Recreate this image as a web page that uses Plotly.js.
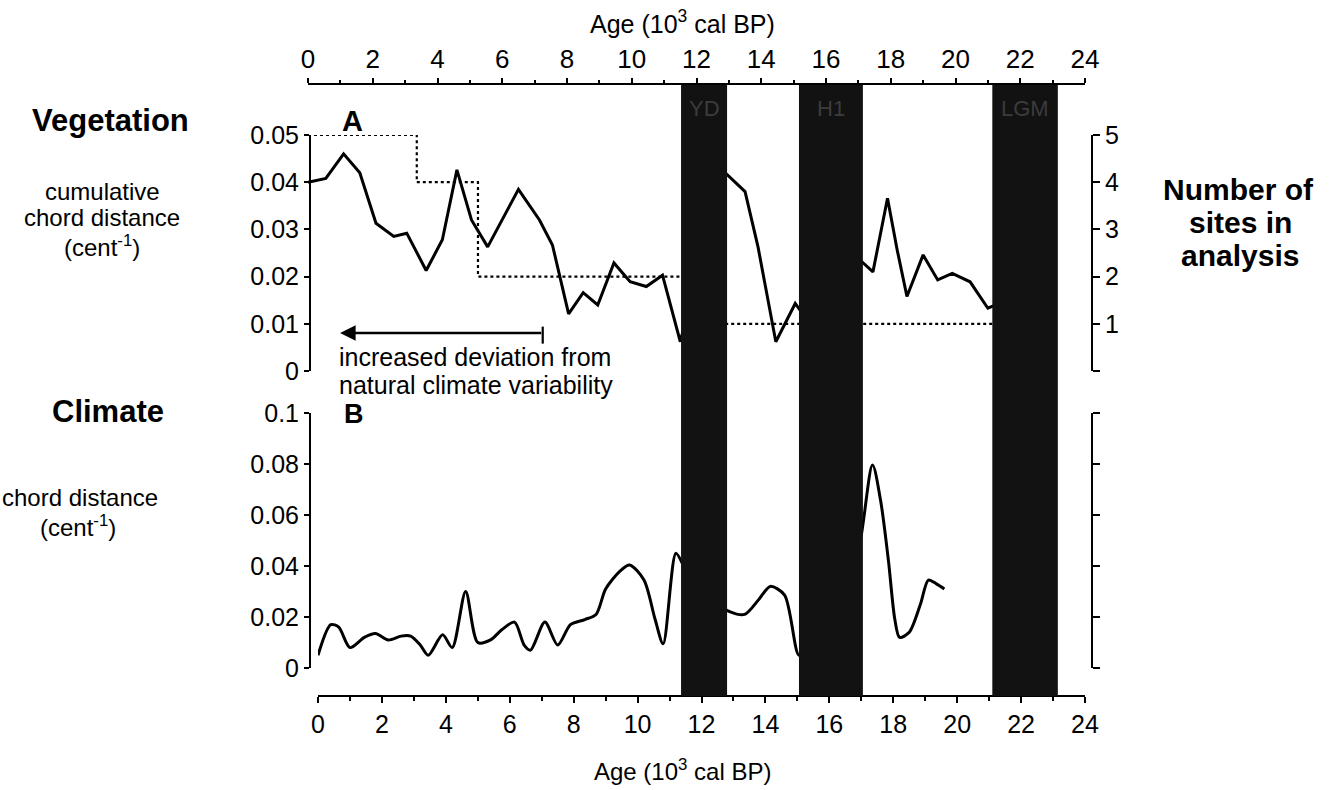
<!DOCTYPE html>
<html>
<head>
<meta charset="utf-8">
<script src="https://cdn.plot.ly/plotly-3.0.1.min.js"></script>
<style>
html,body{margin:0;padding:0;background:#fff;}
#chart{width:1335px;height:790px;}
</style>
</head>
<body>
<div id="chart"></div>
<script>
// ---------------- DATA ----------------
// Panel A: vegetation cumulative chord distance (top age axis)
var vegAge = [0, 0.55, 1.1, 1.6, 2.1, 2.65, 3.05, 3.65, 4.15, 4.6, 5.05, 5.55, 6.5, 7.15, 7.55, 8.05, 8.5, 8.95, 9.45, 9.95, 10.45, 10.95, 11.5, 12.2, 12.9, 13.5, 13.9, 14.45, 15.05, 15.6, 16.3, 17.1, 17.45, 17.9, 18.2, 18.5, 19.0, 19.45, 19.9, 20.45, 21.0, 21.6, 22.3, 23.0];
var vegVal = [0.040, 0.0408, 0.046, 0.042, 0.0313, 0.0285, 0.0292, 0.0213, 0.0278, 0.0426, 0.032, 0.0263, 0.0385, 0.032, 0.0267, 0.0121, 0.0166, 0.014, 0.0229, 0.0189, 0.0179, 0.0203, 0.0062, 0.025, 0.0419, 0.038, 0.0263, 0.0062, 0.0143, 0.009, 0.014, 0.0232, 0.021, 0.0366, 0.0256, 0.0158, 0.0246, 0.0193, 0.0207, 0.0189, 0.0133, 0.015, 0.012, 0.011];
// Number of sites in analysis (step, right axis)
var sitesAge = [0, 3.36, 5.25, 12.2, 22.5];
var sitesNum = [5, 4, 2, 1, 1];
// Panel B: climate chord distance (bottom age axis)
var climAge = [0, 0.4, 0.65, 1.0, 1.45, 1.8, 2.2, 2.6, 2.9, 3.2, 3.45, 3.9, 4.2, 4.62, 5.0, 5.4, 5.75, 6.15, 6.45, 6.65, 7.1, 7.5, 7.9, 8.35, 8.7, 9.0, 9.45, 9.75, 10.2, 10.55, 10.8, 11.2, 11.45, 11.8, 12.2, 12.55, 12.9, 13.35, 13.8, 14.15, 14.6, 15.05, 15.6, 16.2, 16.8, 17.35, 17.6, 17.85, 18.05, 18.2, 18.5, 18.85, 19.1, 19.35, 19.6];
var climVal = [0.005, 0.017, 0.016, 0.008, 0.012, 0.0135, 0.011, 0.0125, 0.0125, 0.009, 0.005, 0.013, 0.008, 0.030, 0.010, 0.011, 0.015, 0.018, 0.009, 0.007, 0.018, 0.009, 0.017, 0.019, 0.021, 0.031, 0.038, 0.0404, 0.0345, 0.019, 0.0095, 0.045, 0.0397, 0.03, 0.035, 0.025, 0.022, 0.021, 0.027, 0.032, 0.0286, 0.005, 0.025, 0.03, 0.04, 0.0796, 0.066, 0.042, 0.019, 0.012, 0.014, 0.025, 0.0345, 0.033, 0.031];
// Climate events (shaded bands)
var bandNames = ['YD', 'H1', 'LGM'];
var bandStart = [11.36, 15.05, 21.1];
var bandEnd = [12.8, 17.05, 23.15];
var ageTicks = [0, 2, 4, 6, 8, 10, 12, 14, 16, 18, 20, 22, 24];

// ---------------- LAYOUT HELPERS ----------------
var W = 1335, H = 790, L = 300, R = 235, T = 80, B = 90;
var PW = W - L - R, PH = H - T - B;
function px(x){ return (x - L) / PW; }
function py(y){ return (T + PH - y) / PH; }

var FONT = 'Liberation Sans, Arial, sans-serif';
var NARROW = 'Liberation Sans Narrow, Liberation Sans, Arial, sans-serif';

var traces = [
  {x: vegAge, y: vegVal, xaxis: 'x3', yaxis: 'y', type: 'scatter', mode: 'lines',
   line: {color: '#000', width: 3}, hoverinfo: 'skip'},
  {x: sitesAge, y: sitesNum, xaxis: 'x3', yaxis: 'y2', type: 'scatter', mode: 'lines',
   line: {color: '#000', width: 2.2, dash: 'dot', shape: 'hv'}, hoverinfo: 'skip'},
  {x: climAge, y: climVal, xaxis: 'x', yaxis: 'y3', type: 'scatter', mode: 'lines',
   line: {color: '#000', width: 3, shape: 'spline', smoothing: 0.8}, hoverinfo: 'skip'},
  {x: [0], y: [0], xaxis: 'x', yaxis: 'y4', type: 'scatter', mode: 'markers',
   marker: {opacity: 0}, hoverinfo: 'skip'}
];

var shapes = [];
for (var i = 0; i < bandNames.length; i++) {
  shapes.push({type: 'rect', xref: 'x', yref: 'paper', x0: bandStart[i], x1: bandEnd[i],
    y0: py(696), y1: py(85), fillcolor: '#121212', line: {width: 0}, layer: 'above'});
}
// end bar of the arrow
shapes.push({type: 'line', xref: 'x3', yref: 'y', x0: 7.25, x1: 7.25, y0: 0.0058, y1: 0.0094,
  line: {color: '#000', width: 2.2}});

var annotations = [];
function txt(t, x, y, size, bold, opts) {
  var a = {text: bold ? '<b>' + t + '</b>' : t, xref: 'paper', yref: 'paper', x: px(x), y: py(y),
    showarrow: false, font: {family: FONT, size: size, color: '#000'}, xanchor: 'center', yanchor: 'middle'};
  if (opts) for (var k in opts) a[k] = opts[k];
  annotations.push(a);
}
txt('Vegetation', 110, 120, 31, true);
txt('cumulative', 102, 191, 24, false);
txt('chord distance', 102, 218, 24, false);
txt('(cent<sup>-1</sup>)', 102, 246, 24, false);
txt('Climate', 108, 411, 31, true);
txt('chord distance', 80, 497, 24, false);
txt('(cent<sup>-1</sup>)', 78, 526, 24, false);
txt('Number of', 1238, 190, 30, true);
txt('sites in', 1240, 223, 30, true);
txt('analysis', 1240, 256, 30, true);
txt('A', 352, 121, 29, true);
txt('B', 354, 414, 27, true);
txt('increased deviation from', 337, 357, 25, false, {xanchor: 'left'});
txt('natural climate variability', 337, 385, 25, false, {xanchor: 'left'});
txt('Age (10<sup>3</sup> cal BP)', 682, 22, 24, false, {font: {family: NARROW, size: 25, color: '#000'}});
txt('Age (10<sup>3</sup> cal BP)', 682, 770, 24, false, {font: {family: NARROW, size: 24, color: '#000'}});
for (var j = 0; j < bandNames.length; j++) {
  annotations.push({text: bandNames[j], xref: 'x', yref: 'paper',
    x: (bandStart[j] + bandEnd[j]) / 2, y: py(108), showarrow: false,
    font: {family: FONT, size: 22, color: '#3c3c3c'}, xanchor: 'center', yanchor: 'middle'});
}
// arrow
annotations.push({xref: 'x3', yref: 'y', x: 0.99, y: 0.00805, axref: 'x3', ayref: 'y',
  ax: 7.25, ay: 0.00805, text: '', showarrow: true, arrowhead: 2, arrowsize: 1.3,
  arrowwidth: 2.4, arrowcolor: '#000'});

var axisCommon = {showgrid: false, zeroline: false, showline: true, linecolor: '#000',
  linewidth: 2, ticks: 'outside', tickcolor: '#000', tickwidth: 2, fixedrange: true};

function ax(o){ var r = {}; for (var k in axisCommon) r[k] = axisCommon[k]; for (var k2 in o) r[k2] = o[k2]; return r; }

var layout = {
  width: W, height: H, margin: {l: L, r: R, t: T, b: B},
  paper_bgcolor: '#fff', plot_bgcolor: 'rgba(0,0,0,0)', showlegend: false,
  xaxis: ax({domain: [px(318), px(1085)], range: [0, 24], anchor: 'free', position: py(696),
    tickvals: ageTicks, ticklen: 6, tickfont: {family: FONT, size: 25, color: '#000'},
    minor: {dtick: 1, ticklen: 4, ticks: 'outside', tickcolor: '#000', tickwidth: 2}}),
  xaxis3: ax({domain: [px(308), px(1085)], range: [0, 24], side: 'top', anchor: 'free', position: py(84),
    tickvals: ageTicks, ticklen: 5, tickfont: {family: NARROW, size: 26, color: '#000'},
    minor: {dtick: 1, ticklen: 3, ticks: 'outside', tickcolor: '#000', tickwidth: 2}}),
  yaxis: ax({domain: [py(371), py(135)], range: [0, 0.05], anchor: 'free', position: px(310),
    tickvals: [0, 0.01, 0.02, 0.03, 0.04, 0.05], ticktext: ['0', '0.01', '0.02', '0.03', '0.04', '0.05'],
    ticklen: 5, tickfont: {family: FONT, size: 25, color: '#000'}}),
  yaxis2: ax({overlaying: 'y', side: 'right', anchor: 'free', position: px(1092), range: [0, 5],
    tickvals: [0, 1, 2, 3, 4, 5], ticktext: ['', '1', '2', '3', '4', '5'], ticklen: 7,
    tickfont: {family: FONT, size: 25, color: '#000'}}),
  yaxis3: ax({domain: [py(668), py(413)], range: [0, 0.1], anchor: 'free', position: px(310),
    tickvals: [0, 0.02, 0.04, 0.06, 0.08, 0.1], ticktext: ['0', '0.02', '0.04', '0.06', '0.08', '0.1'],
    ticklen: 5, tickfont: {family: FONT, size: 25, color: '#000'}}),
  yaxis4: ax({overlaying: 'y3', side: 'right', anchor: 'free', position: px(1092), range: [0, 0.1],
    tickvals: [0, 0.02, 0.04, 0.06, 0.08, 0.1], showticklabels: false, ticklen: 7}),
  shapes: shapes,
  annotations: annotations
};

Plotly.newPlot('chart', traces, layout, {staticPlot: true, displayModeBar: false});
</script>
</body>
</html>
